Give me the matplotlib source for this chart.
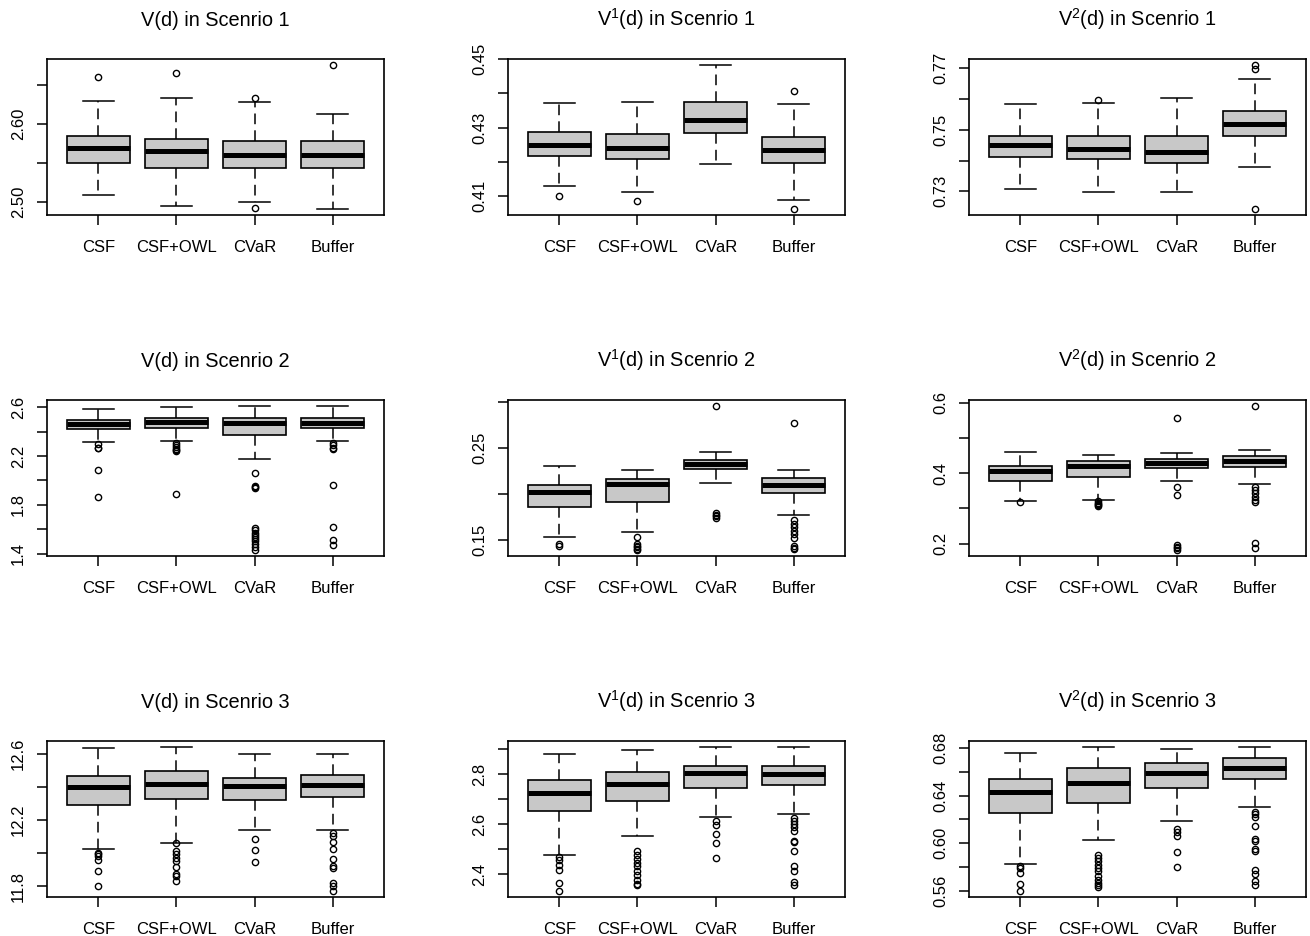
import numpy as np
import matplotlib
matplotlib.use('Agg')
import matplotlib.pyplot as plt

plt.rcParams['font.family'] = ['Liberation Sans', 'DejaVu Sans']
plt.rcParams['mathtext.default'] = 'regular'

methods = ['CSF', 'CSF+OWL', 'CVaR', 'Buffer']

titles = ['V(d) in Scenrio 1', 'V$^1$(d) in Scenrio 1', 'V$^2$(d) in Scenrio 1',
          'V(d) in Scenrio 2', 'V$^1$(d) in Scenrio 2', 'V$^2$(d) in Scenrio 2',
          'V(d) in Scenrio 3', 'V$^1$(d) in Scenrio 3', 'V$^2$(d) in Scenrio 3']

# each box: (whisker low, q1, median, q3, whisker high, outliers)
v_s1 = [(2.509, 2.550, 2.569, 2.585, 2.629, [2.660]),
        (2.495, 2.544, 2.565, 2.581, 2.633, [2.666]),
        (2.500, 2.544, 2.560, 2.578, 2.628, [2.633, 2.492]),
        (2.491, 2.544, 2.560, 2.579, 2.613, [2.676])]
v1_s1 = [(0.4129, 0.4217, 0.4250, 0.4286, 0.4372, [0.4100]),
         (0.4110, 0.4207, 0.4241, 0.4282, 0.4375, [0.4085]),
         (0.4192, 0.4283, 0.4323, 0.4375, 0.4484, []),
         (0.4087, 0.4197, 0.4233, 0.4272, 0.4369, [0.4408, 0.4061])]
v2_s1 = [(0.7309, 0.7410, 0.7451, 0.7480, 0.7585, []),
         (0.7297, 0.7405, 0.7439, 0.7480, 0.7587, [0.7597]),
         (0.7297, 0.7391, 0.7428, 0.7480, 0.7604, []),
         (0.7380, 0.7479, 0.7520, 0.7560, 0.7665, [0.7711, 0.7698, 0.7242])]

v_s2 = [(2.317, 2.420, 2.464, 2.494, 2.583, [2.298, 2.270, 2.263, 2.087, 1.864]),
        (2.323, 2.434, 2.480, 2.513, 2.602, [2.304, 2.290, 2.275, 2.262, 2.250, 2.244, 1.891]),
        (2.173, 2.372, 2.472, 2.513, 2.613, [2.059, 1.956, 1.945, 1.937, 1.612, 1.590, 1.571,
                                             1.554, 1.535, 1.520, 1.500, 1.480, 1.452, 1.427]),
        (2.323, 2.429, 2.472, 2.513, 2.608, [2.305, 2.290, 2.270, 2.255, 1.962, 1.620, 1.509, 1.468])]
v1_s2 = [(0.1529, 0.1860, 0.2019, 0.2098, 0.2308, [0.1453, 0.1435]),
         (0.1587, 0.1915, 0.2109, 0.2167, 0.2264, [0.1532, 0.1453, 0.1435, 0.1420, 0.1405, 0.1390]),
         (0.2120, 0.2271, 0.2322, 0.2372, 0.2463, [0.2960, 0.1796, 0.1775, 0.1760, 0.1742]),
         (0.1778, 0.2008, 0.2102, 0.2178, 0.2264, [0.2769, 0.1716, 0.1680, 0.1641, 0.1597,
                                                   0.1561, 0.1525, 0.1435, 0.1410, 0.1399])]
v2_s2 = [(0.322, 0.379, 0.4076, 0.421, 0.460, [0.317]),
         (0.3238, 0.3886, 0.421, 0.435, 0.4524, [0.321, 0.316, 0.313, 0.310, 0.307]),
         (0.379, 0.4143, 0.4286, 0.440, 0.457, [0.557, 0.361, 0.338, 0.195, 0.190, 0.186, 0.181]),
         (0.3695, 0.417, 0.435, 0.4495, 0.4667, [0.592, 0.362, 0.352, 0.343, 0.333, 0.324,
                                                0.319, 0.202, 0.188])]

v_s3 = [(12.024, 12.29, 12.40, 12.47, 12.634, [12.004, 11.994, 11.984, 11.96, 11.894, 11.804]),
        (12.064, 12.326, 12.416, 12.50, 12.644, [12.06, 12.014, 11.994, 11.974, 11.954, 11.918,
                                                 11.874, 11.864, 11.83]),
        (12.142, 12.32, 12.404, 12.456, 12.60, [12.088, 12.018, 11.944]),
        (12.138, 12.338, 12.414, 12.476, 12.60, [12.12, 12.104, 12.068, 12.028, 11.964, 11.924,
                                                 11.91, 11.818, 11.804, 11.77])]
v1_s3 = [(2.477, 2.653, 2.726, 2.776, 2.880, [2.468, 2.457, 2.437, 2.415, 2.364, 2.331]),
         (2.550, 2.693, 2.760, 2.810, 2.897, [2.490, 2.477, 2.460, 2.444, 2.431, 2.413, 2.397,
                                              2.377, 2.361, 2.355]),
         (2.627, 2.743, 2.803, 2.834, 2.909, [2.610, 2.597, 2.560, 2.524, 2.464]),
         (2.639, 2.755, 2.799, 2.834, 2.909, [2.626, 2.613, 2.599, 2.586, 2.570, 2.530, 2.526,
                                              2.493, 2.431, 2.413, 2.368, 2.355])]
v2_s3 = [(0.5829, 0.6253, 0.6428, 0.6537, 0.6758, [0.5806, 0.5792, 0.5751, 0.5659, 0.5597]),
         (0.6024, 0.6342, 0.6509, 0.6629, 0.6811, [0.5898, 0.5876, 0.5848, 0.5820, 0.5792, 0.5765,
                                                   0.5723, 0.5695, 0.5667, 0.5647, 0.5633]),
         (0.6183, 0.6467, 0.6587, 0.6671, 0.6794, [0.6119, 0.6091, 0.6057, 0.5924, 0.5801]),
         (0.6309, 0.6543, 0.6635, 0.6716, 0.6805, [0.6267, 0.6247, 0.6225, 0.6147, 0.6035, 0.6016,
                                                   0.5951, 0.5938, 0.5773, 0.5745, 0.5681, 0.5653])]

panels = [v_s1, v1_s1, v2_s1, v_s2, v1_s2, v2_s2, v_s3, v1_s3, v2_s3]
tick_steps = [0.05, 0.01, 0.01, 0.2, 0.05, 0.1, 0.2, 0.1, 0.02]

W, H = 1310, 936
fig = plt.figure(figsize=(W / 100, H / 100), dpi=100)

col_left = [47, 508, 969]
row_top = [59, 400, 741]
pw, ph = 337, 156

for i, data in enumerate(panels):
    r, c = divmod(i, 3)
    ax = fig.add_axes([col_left[c] / W, 1 - (row_top[r] + ph) / H, pw / W, ph / H])

    stats = []
    for (lo, q1, med, q3, hi, fl) in data:
        stats.append(dict(whislo=lo, q1=q1, med=med, q3=q3, whishi=hi, fliers=fl))

    ax.bxp(stats, positions=[1, 2, 3, 4], widths=0.8, capwidths=0.4,
           patch_artist=True, manage_ticks=False,
           boxprops=dict(facecolor='#c8c8c8', edgecolor='black', linewidth=1.2),
           medianprops=dict(color='black', linewidth=3.6, solid_capstyle='butt'),
           whiskerprops=dict(color='black', linewidth=1.1, linestyle=(0, (7, 4))),
           capprops=dict(color='black', linewidth=1.1),
           flierprops=dict(marker='o', markersize=4.5, markerfacecolor='none',
                           markeredgecolor='black', markeredgewidth=1.0))

    allv = []
    for (lo, q1, med, q3, hi, fl) in data:
        allv += [lo, hi] + list(fl)
    ymin, ymax = min(allv), max(allv)
    pad = 0.04 * (ymax - ymin)
    ax.set_ylim(ymin - pad, ymax + pad)
    ax.set_xlim(0.34, 4.66)

    step = tick_steps[i]
    dec = max(0, -int(np.floor(np.log10(step) + 1e-9)))
    t0 = np.ceil((ymin - pad) / step - 1e-9) * step
    ticks = np.arange(t0, ymax + pad + 1e-9, step)
    ax.set_yticks(ticks)
    ax.set_yticklabels([f'{t:.{dec}f}' if k % 2 == 0 else '' for k, t in enumerate(ticks)],
                       rotation=90, va='center')

    ax.set_xticks([1, 2, 3, 4])
    ax.set_xticklabels(methods)
    ax.tick_params(axis='both', direction='out', length=7, width=1.1,
                   labelsize=12, pad=8)
    ax.tick_params(axis='x', pad=11)
    for sp in ax.spines.values():
        sp.set_linewidth(1.2)

    ax.set_title(titles[i], fontsize=14.4, pad=24)

fig.savefig('out.png', dpi=100)
